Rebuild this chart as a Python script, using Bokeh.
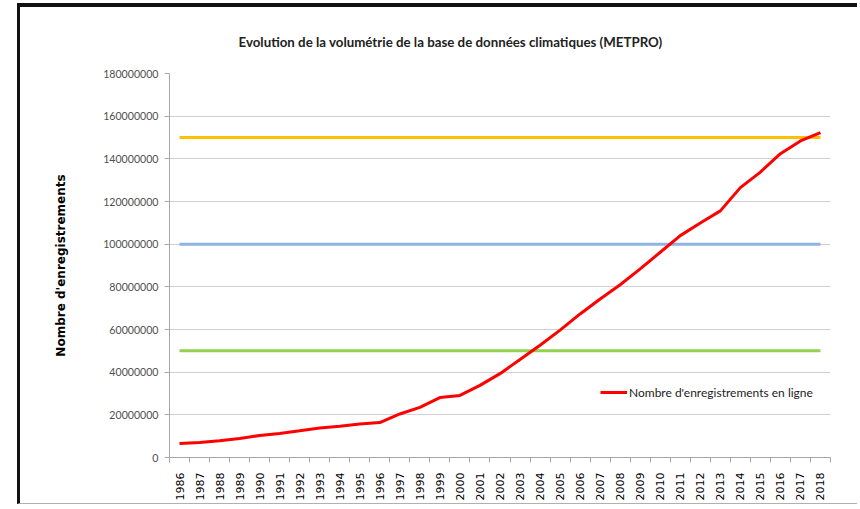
from bokeh.plotting import figure
from bokeh.models import Range1d, FixedTicker, BasicTickFormatter, Legend, LegendItem
from bokeh.embed import file_html
from bokeh.resources import INLINE
import math

# ---- data ----
years = list(range(1986, 2019))
enregistrements = [
    6.6e6, 7.0e6, 7.8e6, 8.9e6, 10.3e6, 11.3e6, 12.5e6, 13.8e6, 14.7e6, 15.7e6,
    16.4e6, 20.4e6, 23.5e6, 28.1e6, 29.1e6, 33.8e6, 39.3e6, 45.9e6, 52.6e6, 59.7e6,
    67.3e6, 74.3e6, 81.0e6, 88.4e6, 96.2e6, 104.0e6, 109.9e6, 115.6e6, 126.5e6, 133.8e6,
    142.4e6, 148.4e6, 152.3e6,
]
seuil_150 = [150e6] * len(years)
seuil_100 = [100e6] * len(years)
seuil_50 = [50e6] * len(years)
y_ticks = [0, 20e6, 40e6, 60e6, 80e6, 100e6, 120e6, 140e6, 160e6, 180e6]
title_text = "Evolution de la volumétrie de la base de données climatiques (METPRO)"
y_label = "Nombre d'enregistrements"
legend_label = "Nombre d'enregistrements en ligne"

p = figure(width=840, height=501, output_backend="svg", toolbar_location=None,
           x_range=Range1d(years[0] - 0.5, years[-1] + 0.5),
           y_range=Range1d(0, 180e6),
           min_border_left=149, min_border_right=30, min_border_top=66, min_border_bottom=51)
p.styles = {"margin-left": "17px", "margin-top": "3px",
            "border-left": "3px solid #111111", "border-top": "4px solid #111111",
            "border-bottom": "1px solid #b0b0b0"}
p.outline_line_color = None
p.background_fill_color = "white"
p.border_fill_color = "white"

# title
p.title.text = title_text
p.title.text_font = "Lato"
p.title.text_font_size = "13.3px"
p.title.text_font_style = "bold"
p.title.text_color = "#222222"
p.title.align = "left"
p.title.offset = 69
p.title.vertical_align = "top"
p.title.standoff = 43

# reference lines
p.line(years, seuil_150, line_color="#FFC000", line_width=3)
p.line(years, seuil_100, line_color="#8EB4E3", line_width=3)
p.line(years, seuil_50, line_color="#92D050", line_width=3)
r = p.line(years, enregistrements, line_color="#FF0000", line_width=3)

# grid
p.xgrid.grid_line_color = None
p.ygrid.grid_line_color = "#d0d0d0"
p.ygrid.grid_line_width = 1
p.ygrid.ticker = FixedTicker(ticks=y_ticks)

# y axis
yax = p.yaxis[0]
yax.ticker = FixedTicker(ticks=y_ticks)
yax.formatter = BasicTickFormatter(use_scientific=False)
yax.axis_line_color = "#a6a6a6"
yax.major_tick_line_color = "#a6a6a6"
yax.major_tick_out = 5
yax.major_tick_in = 0
yax.minor_tick_line_color = None
yax.major_label_text_font = "Lato"
yax.major_label_text_font_size = "10.6px"
yax.major_label_text_color = "#505050"
yax.major_label_standoff = 6
yax.axis_label = y_label
yax.axis_label_text_font = "DejaVu Sans"
yax.axis_label_text_font_style = "bold"
yax.axis_label_text_font_size = "12px"
yax.axis_label_text_color = "#000000"
yax.axis_label_standoff = 32

# x axis
xax = p.xaxis[0]
xax.ticker = FixedTicker(ticks=years, minor_ticks=[y - 0.5 for y in years] + [years[-1] + 0.5])
xax.axis_line_color = "#a6a6a6"
xax.major_tick_line_color = None
xax.major_tick_out = 0
xax.major_tick_in = 0
xax.minor_tick_line_color = "#a6a6a6"
xax.minor_tick_out = 5
xax.minor_tick_in = 0
xax.major_label_orientation = math.pi / 2
xax.major_label_text_font = "DejaVu Sans"
xax.major_label_text_font_size = "11px"
xax.major_label_text_color = "#000000"
xax.major_label_standoff = 10

legend = Legend(items=[LegendItem(label=legend_label, renderers=[r])],
                location=(431, 55), orientation="vertical")
legend.border_line_color = None
legend.background_fill_alpha = 0
legend.padding = 0
legend.margin = 0
legend.glyph_width = 27
legend.label_standoff = 2
legend.label_text_font = "Lato"
legend.label_text_font_size = "12px"
legend.label_text_color = "#222222"
p.add_layout(legend, "center")

open("out.html", "w").write(file_html(p, INLINE))
